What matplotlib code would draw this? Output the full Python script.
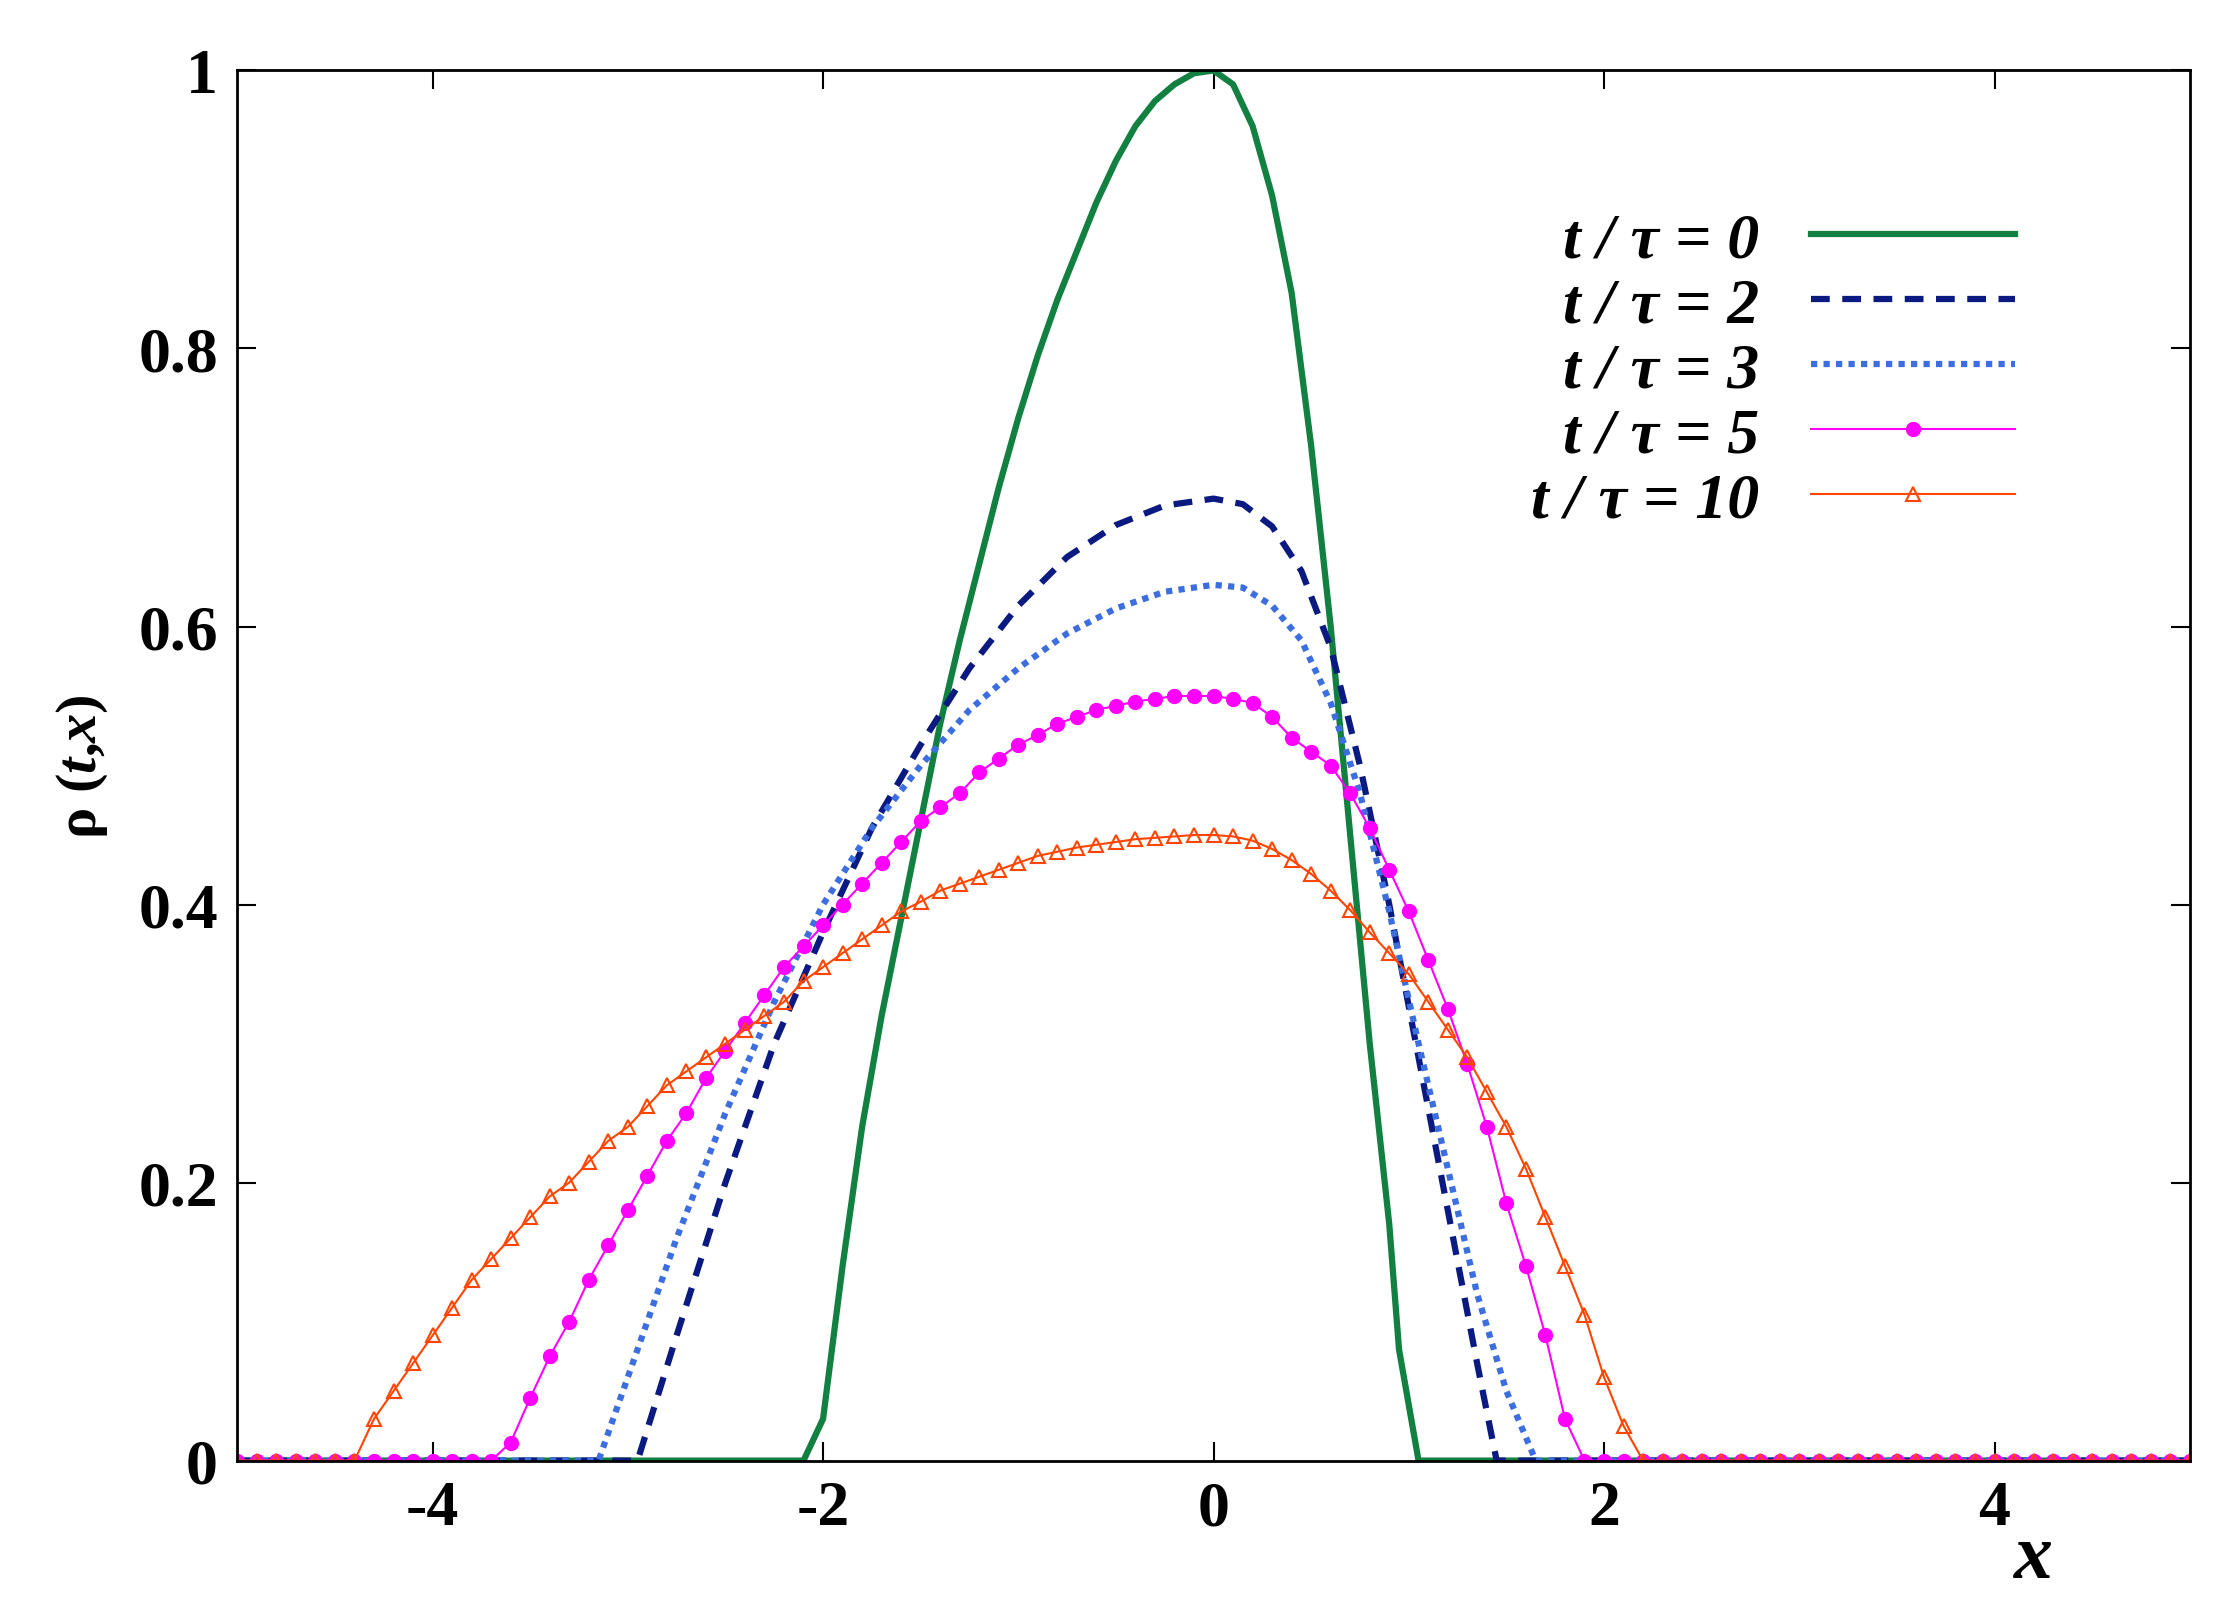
import numpy as np
import matplotlib
matplotlib.use("Agg")
import matplotlib.pyplot as plt

# t/tau = 0
x0 = [-5.0, -2.1, -2.0, -1.9, -1.8, -1.7, -1.6, -1.5, -1.4, -1.3, -1.2, -1.1, -1.0, -0.9, -0.8,
      -0.7, -0.6, -0.5, -0.4, -0.3, -0.2, -0.1, 0.0, 0.1, 0.2, 0.3, 0.4, 0.5, 0.6, 0.7, 0.8,
      0.9, 0.95, 1.05, 5.0]
y0 = [0.0, 0.0, 0.03, 0.14, 0.24, 0.32, 0.39, 0.46, 0.53, 0.59, 0.645, 0.70, 0.75, 0.795, 0.835,
      0.87, 0.905, 0.935, 0.96, 0.978, 0.99, 0.998, 1.0, 0.99, 0.96, 0.91, 0.84, 0.73, 0.60, 0.45, 0.30,
      0.17, 0.08, 0.0, 0.0]

# t/tau = 2
x2 = [-5.0, -2.95, -2.75, -2.5, -2.25, -2.0, -1.75, -1.5, -1.25, -1.0, -0.75, -0.5, -0.25, 0.0,
      0.15, 0.3, 0.45, 0.6, 0.75, 0.9, 1.05, 1.2, 1.35, 1.45, 5.0]
y2 = [0.0, 0.0, 0.09, 0.20, 0.30, 0.38, 0.455, 0.515, 0.57, 0.615, 0.65, 0.673, 0.687, 0.692,
      0.688, 0.672, 0.64, 0.585, 0.50, 0.40, 0.29, 0.18, 0.07, 0.0, 0.0]

# t/tau = 3
x3 = [-5.0, -3.15, -3.0, -2.75, -2.5, -2.25, -2.0, -1.75, -1.5, -1.25, -1.0, -0.75, -0.5, -0.25,
      0.0, 0.15, 0.3, 0.45, 0.6, 0.75, 0.9, 1.05, 1.2, 1.35, 1.5, 1.65, 5.0]
y3 = [0.0, 0.0, 0.06, 0.16, 0.25, 0.33, 0.40, 0.455, 0.50, 0.54, 0.57, 0.595, 0.613, 0.625,
      0.63, 0.628, 0.615, 0.59, 0.545, 0.48, 0.395, 0.30, 0.21, 0.12, 0.05, 0.0, 0.0]

# grid for marker curves: -5 .. 5 step 0.1
xg = np.round(np.linspace(-5, 5, 101), 2)

y5 = ([0.0] * 14 +
      [0.013, 0.045, 0.075, 0.10, 0.13, 0.155, 0.18, 0.205, 0.23, 0.25,
       0.275, 0.295, 0.315, 0.335, 0.355, 0.37, 0.385, 0.40, 0.415, 0.43,
       0.445, 0.46, 0.47, 0.48, 0.495, 0.505, 0.515, 0.522, 0.53, 0.535,
       0.54, 0.543, 0.546, 0.548, 0.55, 0.55, 0.55, 0.548, 0.545, 0.535,
       0.52, 0.51, 0.50, 0.48, 0.455, 0.425, 0.395, 0.36, 0.325, 0.285,
       0.24, 0.185, 0.14, 0.09, 0.03] +
      [0.0] * 32)

y10 = ([0.0] * 7 +
       [0.03, 0.05, 0.07, 0.09, 0.11, 0.13, 0.145, 0.16, 0.175, 0.19,
        0.20, 0.215, 0.23, 0.24, 0.255, 0.27, 0.28, 0.29, 0.30, 0.31,
        0.32, 0.33, 0.345, 0.355, 0.365, 0.375, 0.385, 0.395, 0.402, 0.41,
        0.415, 0.42, 0.425, 0.43, 0.435, 0.438, 0.441, 0.443, 0.445, 0.447,
        0.448, 0.449, 0.45, 0.45, 0.449, 0.446, 0.44, 0.432, 0.422, 0.41,
        0.396, 0.38, 0.365, 0.35, 0.33, 0.31, 0.29, 0.265, 0.24, 0.21,
        0.175, 0.14, 0.105, 0.06, 0.025] +
       [0.0] * 29)

labels = ["t / τ = 0", "t / τ = 2", "t / τ = 3", "t / τ = 5", "t / τ = 10"]

plt.rcParams["font.family"] = "Liberation Serif"
plt.rcParams["font.weight"] = "bold"
plt.rcParams["mathtext.fontset"] = "custom"
plt.rcParams["mathtext.it"] = "Liberation Serif:italic"
plt.rcParams["mathtext.rm"] = "Liberation Serif"

fig = plt.figure(figsize=(22.39, 16.24), dpi=100)
ax = fig.add_axes([0.106, 0.10, 0.872, 0.856])

ax.plot(x0, y0, color="#118040", lw=4.5)
ax.plot(x2, y2, color="#0a1a80", lw=4.5, ls=(0, (3, 2)))
ax.plot(x3, y3, color="#3d6ee0", lw=4.5, ls=(0, (1, 1)))
ax.plot(xg, y5, color="#ff00ff", lw=1.5, marker="o", ms=10)
ax.plot(xg, y10, color="#ff4500", lw=1.5, marker="^", ms=10, mfc="none", mew=1.5)

ax.set_xlim(-5, 5)
ax.set_ylim(0, 1)
ax.set_xticks([-4, -2, 0, 2, 4])
ax.set_xticklabels(["-4", "-2", "0", "2", "4"])
ax.set_yticks([0, 0.2, 0.4, 0.6, 0.8, 1])
ax.set_yticklabels(["0", "0.2", "0.4", "0.6", "0.8", "1"])
ax.tick_params(direction="in", length=14, width=1.5, top=True, right=True,
               labelsize=46, pad=14)
for s in ax.spines.values():
    s.set_linewidth(2)

ax.set_ylabel(r"$\mathrm{\rho}\ (t{,}x)$", fontsize=42, labelpad=20)
ax.text(0.92, -0.045, "x", transform=ax.transAxes, fontsize=56, fontstyle="italic",
        fontweight="bold", ha="center", va="top")

leg = ax.legend(ax.get_lines(), labels, loc="upper right", bbox_to_anchor=(0.94, 0.94),
                frameon=False, markerfirst=False, handlelength=3.2,
                prop={"family": "Liberation Serif", "size": 46, "weight": "bold",
                      "style": "italic"}, labelspacing=0.1, handletextpad=0.8)

fig.savefig("out.png", dpi=100)
